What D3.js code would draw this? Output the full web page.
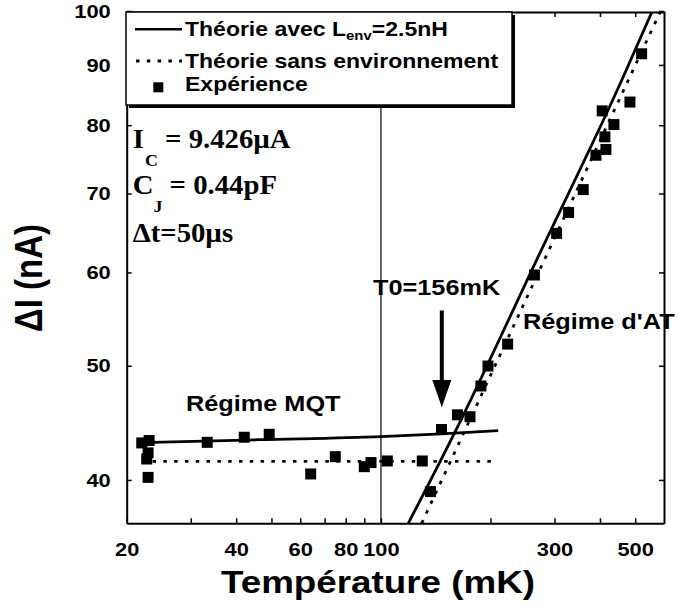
<!DOCTYPE html>
<html><head><meta charset="utf-8">
<script src="https://cdn.jsdelivr.net/npm/d3@7"></script>
<style>body{margin:0;background:#fff}svg{display:block}</style>
</head><body>
<svg id="c" width="679" height="605"></svg>
<script>
// ---- data ----
const tempExp = [22.0, 23.05, 22.9, 22.7, 22.9, 33.3, 42.1, 49.3, 64.1, 74.9, 90.0, 93.9, 104.1, 129.9, 136.8, 146.7, 162.3, 175.7, 188.3, 196.9, 223, 264.2, 304, 328, 359.8, 390, 415.4, 412.8, 437, 405.8, 483.6, 520.8];
const dIExp   = [43.0, 43.2, 42.17, 41.67, 40.2, 43.05, 43.48, 43.73, 40.47, 41.86, 41.05, 41.38, 41.51, 41.51, 39.1, 44.14, 45.43, 45.26, 48.06, 49.97, 52.16, 59.7, 64.76, 67.46, 70.54, 75.44, 76.3, 78.2, 80.1, 82.27, 83.7, 91.98];
const thEnvMqtT = [22, 46.5, 100, 146.6, 210];
const thEnvMqtI = [43.02, 43.27, 43.53, 43.77, 44.04];
const thEnvTaT  = [118.9, 166.7, 268, 458.8, 554.8];
const thEnvTaI  = [36.75, 45.1, 61.5, 87.3, 99.7];
const thNoMqtT  = [22, 210];
const thNoMqtI  = [41.47, 41.47];
const thNoTaT   = [129.4, 182.5, 442.6, 584.8];
const thNoTaI   = [36.75, 46.16, 82.96, 99.7];
const xTickValues = [20,30,40,50,60,70,80,90,100,200,300,400,500];
const xTickLabels = [20,40,60,80,100,300,500];
const yTickValues = [40,50,60,70,80,90,100];
const T0 = 147, arrowTopI = 55.7, arrowTipI = 46.1;

// ---- setup ----
const svg = d3.select("#c");
const SX = 1.15;
const SANS = "'Liberation Sans', Arial, Helvetica, sans-serif";
const SERIF = "'Liberation Serif', 'Times New Roman', serif";
const L = 126.7, R = 664, T = 11, B = 523.3;
const x = d3.scaleLog().domain([20,600]).range([L,R]);
const y = d3.scaleLog().domain([36.75,100]).range([B,T]);

svg.append("rect").attr("width",679).attr("height",605).attr("fill","#fff");

// axes
function styleAxis(g){
  g.select(".domain").attr("stroke","#000").attr("stroke-width",2);
  g.selectAll(".tick line").attr("stroke","#000").attr("stroke-width",1.5);
}
const gB = svg.append("g").attr("transform",`translate(0,${B})`)
  .call(d3.axisBottom(x).tickValues(xTickValues).tickSizeInner(-5).tickSizeOuter(0).tickPadding(19)
    .tickFormat(d => xTickLabels.includes(d) ? String(d) : ""));
styleAxis(gB);
gB.selectAll("text").attr("font-family",SANS).attr("font-weight","bold").attr("font-size",19)
  .attr("fill","#000").attr("transform",`scale(${SX},1)`);

const gT = svg.append("g").attr("transform",`translate(0,${T+1})`)
  .call(d3.axisTop(x).tickValues(xTickValues).tickSizeInner(-5).tickSizeOuter(0).tickFormat(""));
styleAxis(gT);

const gL = svg.append("g").attr("transform",`translate(${L},0)`)
  .call(d3.axisLeft(y).tickValues(yTickValues).tickSizeInner(-5).tickSizeOuter(0).tickFormat(d3.format("d")));
styleAxis(gL);
gL.selectAll("text").attr("font-family",SANS).attr("font-weight","bold").attr("font-size",19)
  .attr("fill","#000").attr("x",0).attr("transform",`translate(-16,0) scale(${SX},1)`);

const gR = svg.append("g").attr("transform",`translate(${R},0)`)
  .call(d3.axisRight(y).tickValues(yTickValues).tickSizeInner(-5).tickSizeOuter(0).tickFormat(""));
styleAxis(gR);

// clip
svg.append("clipPath").attr("id","clip").append("rect")
  .attr("x",L).attr("y",T+1).attr("width",R-L).attr("height",B-T-1);
const plot = svg.append("g").attr("clip-path","url(#clip)");

// vertical line at 100 mK
plot.append("line").attr("x1",x(100)).attr("x2",x(100)).attr("y1",y(100)).attr("y2",B)
  .attr("stroke","#000").attr("stroke-width",1.2);

const line = d3.line().x(d=>x(d[0])).y(d=>y(d[1])).curve(d3.curveMonotoneX);
const zip = (a,b) => a.map((v,i)=>[v,b[i]]);
function drawLine(data, dotted){
  const p = plot.append("path").attr("d",line(data)).attr("fill","none").attr("stroke","#000");
  if (dotted) p.attr("stroke-width",2.8).attr("stroke-dasharray","3.5 7.3");
  else p.attr("stroke-width",2.8);
}
drawLine(zip(thEnvMqtT,thEnvMqtI), false);
drawLine(zip(thEnvTaT,thEnvTaI), false);
drawLine(zip(thNoMqtT,thNoMqtI), true);
drawLine(zip(thNoTaT,thNoTaI), true);

const S = 11;
plot.selectAll("rect.pt").data(zip(tempExp,dIExp)).enter().append("rect").attr("class","pt")
  .attr("x",d=>x(d[0])-S/2).attr("y",d=>y(d[1])-S/2).attr("width",S).attr("height",S).attr("fill","#000");

// arrow
const ax = x(T0);
svg.append("rect").attr("x",ax-2).attr("y",y(arrowTopI)).attr("width",4).attr("height",381-y(arrowTopI)).attr("fill","#000");
svg.append("path").attr("d",`M${ax-9.5},380 L${ax+9.5},380 L${ax},${y(arrowTipI)} Z`).attr("fill","#000");

// text helper
function txt(xp, yp, size, family, parts, anchor, sx){
  const t = svg.append("text").attr("transform",`translate(${xp},${yp}) scale(${sx||SX},1)`)
    .attr("font-family",family).attr("font-weight","bold").attr("font-size",size).attr("fill","#000")
    .attr("text-anchor",anchor||"start");
  parts.forEach(p => {
    const s = t.append("tspan").text(p.t);
    if (p.size) s.attr("font-size",p.size);
    if (p.dy) s.attr("dy",p.dy);
    if (p.dx) s.attr("dx",p.dx);
  });
  return t;
}

// annotations
txt(186,411,22,SANS,[{t:"Régime MQT"}]);
txt(373,295,22,SANS,[{t:"T0=156mK"}]);
txt(523,328.5,22,SANS,[{t:"Régime d'AT"}]);

txt(132.7,148,26.5,SERIF,[{t:"I"},{t:"C",size:16.5,dy:18,dx:1},{t:" = 9.426µA",dy:-18}],"start",1.085);
txt(132.7,194,26.5,SERIF,[{t:"C"},{t:"J",size:16.5,dy:18},{t:" = 0.44pF",dy:-18}],"start",1.085);
txt(132.7,242,26.5,SERIF,[{t:"Δt=50µs"}],"start",1.085);

// legend
svg.append("rect").attr("x",129).attr("y",15).attr("width",386).attr("height",93).attr("fill","#000");
svg.append("rect").attr("x",126).attr("y",12).attr("width",386).attr("height",93).attr("fill","#fff")
  .attr("stroke","#000").attr("stroke-width",1.5);
svg.append("line").attr("x1",135).attr("x2",182).attr("y1",29.3).attr("y2",29.3).attr("stroke","#000").attr("stroke-width",2.5);
svg.append("line").attr("x1",136).attr("x2",182).attr("y1",61).attr("y2",61).attr("stroke","#000")
  .attr("stroke-width",2.8).attr("stroke-dasharray","3.5 7.3");
svg.append("rect").attr("x",158.3-5).attr("y",87.3-5).attr("width",10).attr("height",10).attr("fill","#000");
txt(185,36,20,SANS,[{t:"Théorie avec L"},{t:"env",size:13,dy:4},{t:"=2.5nH",dy:-4}]);
txt(185,67.5,20,SANS,[{t:"Théorie sans environnement"}]);
txt(185,91,20,SANS,[{t:"Expérience"}]);

// axis titles
txt(378,593,32,SANS,[{t:"Température (mK)"}],"middle");
svg.append("text").attr("transform",`translate(41.7,278) scale(${SX},1) rotate(-90)`)
  .attr("font-family",SANS).attr("font-weight","bold").attr("font-size",33).attr("fill","#000")
  .attr("text-anchor","middle").text("ΔI (nA)");
</script>
</body></html>
